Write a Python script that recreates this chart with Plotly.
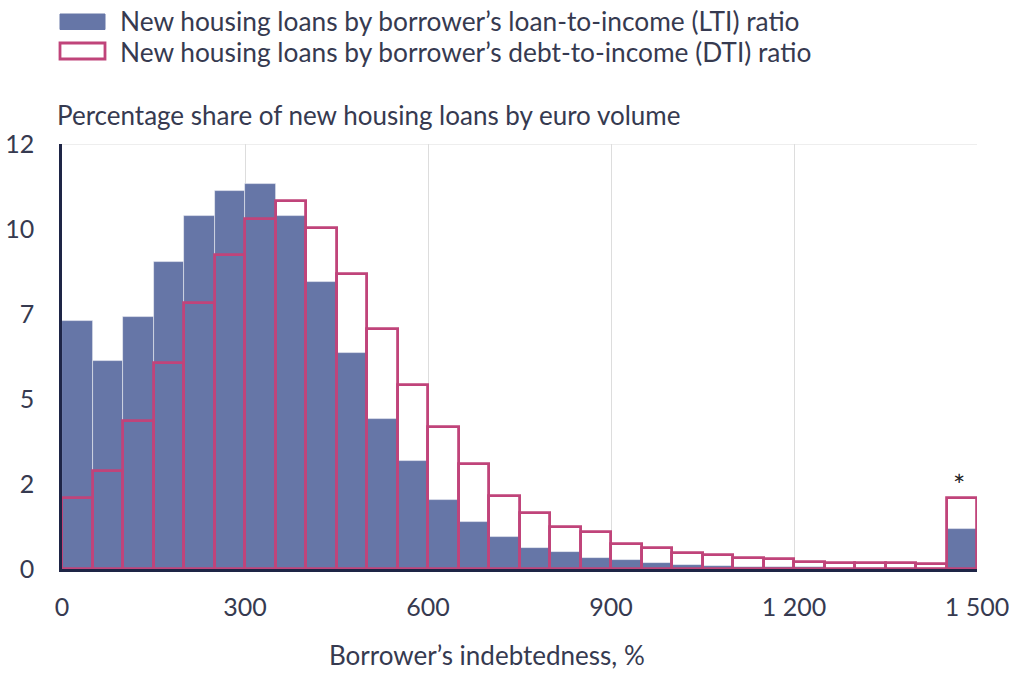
import plotly.graph_objects as go

bin_width = 50
bin_centers = [25 + 50 * i for i in range(30)]

lti = [7.30, 6.12, 7.40, 9.02, 10.37, 11.13, 11.31, 10.38, 8.45, 6.34,
       4.40, 3.19, 2.04, 1.39, 0.95, 0.61, 0.49, 0.31, 0.26, 0.19,
       0.12, 0.09, 0.07, 0.06, 0.05, 0.04, 0.04, 0.03, 0.03, 1.17]
dti = [2.10, 2.88, 4.36, 6.05, 7.81, 9.25, 10.29, 10.82, 10.04, 8.69,
       7.06, 5.42, 4.17, 3.08, 2.15, 1.64, 1.25, 1.09, 0.74, 0.61,
       0.46, 0.41, 0.33, 0.28, 0.22, 0.19, 0.19, 0.17, 0.14, 2.08]

y_tickvals = [0, 2.5, 5, 7.5, 10, 12.5]
y_ticktext = ["0", "2", "5", "7", "10", "12"]
x_tickvals = [0, 300, 600, 900, 1200, 1500]
x_ticktext = ["0", "300", "600", "900", "1 200", "1 500"]

legend_labels = ["New housing loans by borrower’s loan-to-income (LTI) ratio",
                 "New housing loans by borrower’s debt-to-income (DTI) ratio"]
x_title = "Borrower’s indebtedness, %"
y_title = "Percentage share of new housing loans by euro volume"

BLUE = "#6676a7"
PINK = "#c0447a"
NAVY = "#1e2546"
TEXT = "#363a50"
FONT = "Lato"

# plot area in screen pixels (for placing non-data decorations)
PX0, PW, PY0, PH = 62, 915, 144, 425


def px(x):
    return (x - PX0) / PW


def py(y):
    return 1 + (PY0 - y) / PH


fig = go.Figure()
fig.add_trace(go.Bar(x=bin_centers, y=lti, width=bin_width, name=legend_labels[0],
                     marker=dict(color=BLUE, line=dict(color="rgba(255,255,255,0.6)", width=0.8)),
                     showlegend=False, hoverinfo="skip"))
fig.add_trace(go.Bar(x=bin_centers, y=dti, width=bin_width, name=legend_labels[1],
                     marker=dict(color="rgba(0,0,0,0)", line=dict(color=PINK, width=2.8)),
                     showlegend=False, hoverinfo="skip"))

fig.add_annotation(x=bin_centers[-1], y=dti[-1], text="*", showarrow=False,
                   yshift=14, xshift=-3, font=dict(family=FONT, size=29, color="#222222"))

# custom legend
fig.add_shape(type="rect", xref="paper", yref="paper",
              x0=px(60), x1=px(105), y0=py(29.5), y1=py(14),
              fillcolor=BLUE, line=dict(color=BLUE, width=1))
fig.add_shape(type="rect", xref="paper", yref="paper",
              x0=px(60), x1=px(105), y0=py(59), y1=py(43),
              fillcolor="white", line=dict(color=PINK, width=2.8))
fig.add_annotation(xref="paper", yref="paper", x=px(118), y=py(21),
                   text=legend_labels[0], showarrow=False, xanchor="left", yanchor="middle",
                   font=dict(family=FONT, size=26.3, color=TEXT))
fig.add_annotation(xref="paper", yref="paper", x=px(118), y=py(52),
                   text=legend_labels[1], showarrow=False, xanchor="left", yanchor="middle",
                   font=dict(family=FONT, size=26.3, color=TEXT))

fig.add_annotation(xref="paper", yref="paper", x=px(55), y=py(115),
                   text=y_title, showarrow=False, xanchor="left", yanchor="middle",
                   font=dict(family=FONT, size=26, color=TEXT))
fig.add_annotation(xref="paper", yref="paper", x=px(487), y=py(655),
                   text=x_title, showarrow=False, xanchor="center", yanchor="middle",
                   borderpad=0,
                   font=dict(family=FONT, size=26, color=TEXT))

# light top border line at top of value range
fig.add_shape(type="line", xref="paper", yref="y", x0=0, x1=1, y0=12.5, y1=12.5,
              line=dict(color="#dddddd", width=1.2), layer="below")

fig.update_layout(
    width=1009, height=673,
    margin=dict(l=62, r=32, t=144, b=104),
    paper_bgcolor="white", plot_bgcolor="white",
    barmode="overlay", bargap=0,
    font=dict(family=FONT, color=TEXT),
    xaxis=dict(range=[0, 1500], tickvals=x_tickvals, ticktext=x_ticktext,
               automargin=False, ticklabeloverflow="allow",
               showgrid=True, gridcolor="#dddddd", gridwidth=1.2,
               showline=True, linecolor=NAVY, linewidth=3,
               ticks="", ticklabelstandoff=14, zeroline=False,
               tickfont=dict(family=FONT, size=25, color=TEXT)),
    yaxis=dict(range=[0, 12.5], tickvals=y_tickvals, ticktext=y_ticktext,
               automargin=False, ticklabeloverflow="allow",
               showgrid=False, zeroline=False,
               showline=True, linecolor=NAVY, linewidth=2.5,
               ticks="", ticklabelstandoff=20,
               tickfont=dict(family=FONT, size=25, color=TEXT)),
)

fig.write_html("out.html", config={"displayModeBar": False},
               post_script="document.body.style.margin='0';")
